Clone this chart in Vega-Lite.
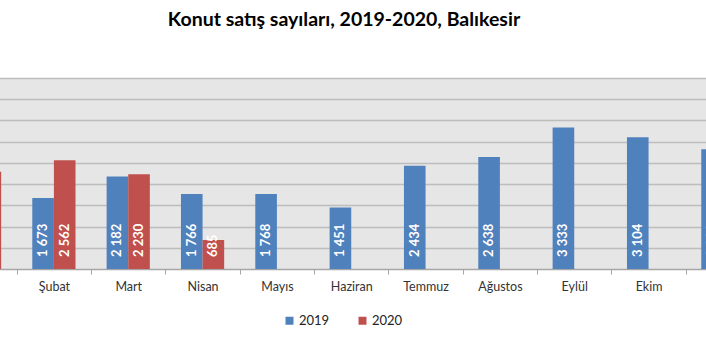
{
  "$schema": "https://vega.github.io/schema/vega-lite/v6.json",
  "width": 706,
  "height": 191,
  "autosize": {"type": "none"},
  "padding": {"left": 0, "top": 78, "right": 0, "bottom": 86},
  "background": "#ffffff",
  "title": {
    "text": "Konut satış sayıları, 2019-2020, Balıkesir",
    "anchor": "middle",
    "frame": "group",
    "baseline": "alphabetic",
    "offset": 33,
    "dx": -9,
    "font": "Lato",
    "fontSize": 19.5,
    "fontWeight": "bold",
    "color": "#000000"
  },
  "config": {
    "view": {"fill": "#e6e6e6", "stroke": null},
    "locale": {"number": {"decimal": ",", "thousands": " ", "grouping": [3], "currency": ["", ""]}}
  },
  "data": {
    "values": [
      {"ay": "Ocak", "yil": "2020", "satis": 2290},
      {"ay": "Şubat", "yil": "2019", "satis": 1673},
      {"ay": "Şubat", "yil": "2020", "satis": 2562},
      {"ay": "Mart", "yil": "2019", "satis": 2182},
      {"ay": "Mart", "yil": "2020", "satis": 2230},
      {"ay": "Nisan", "yil": "2019", "satis": 1766},
      {"ay": "Nisan", "yil": "2020", "satis": 685},
      {"ay": "Mayıs", "yil": "2019", "satis": 1768},
      {"ay": "Haziran", "yil": "2019", "satis": 1451},
      {"ay": "Temmuz", "yil": "2019", "satis": 2434},
      {"ay": "Ağustos", "yil": "2019", "satis": 2638},
      {"ay": "Eylül", "yil": "2019", "satis": 3333},
      {"ay": "Ekim", "yil": "2019", "satis": 3104},
      {"ay": "Kasım", "yil": "2019", "satis": 2820}
    ]
  },
  "encoding": {
    "x": {
      "field": "ay",
      "type": "nominal",
      "sort": ["Ocak", "Şubat", "Mart", "Nisan", "Mayıs", "Haziran", "Temmuz", "Ağustos", "Eylül", "Ekim", "Kasım", "Aralık"],
      "scale": {
        "domain": ["Ocak", "Şubat", "Mart", "Nisan", "Mayıs", "Haziran", "Temmuz", "Ağustos", "Eylül", "Ekim", "Kasım", "Aralık"],
        "range": [-57.6, 834.4],
        "paddingInner": 0,
        "paddingOuter": 0
      },
      "axis": {
        "title": null,
        "labelAngle": 0,
        "labelFont": "Lato",
        "labelFontSize": 12.5,
        "labelColor": "#333333",
        "labelPadding": 6,
        "labelOverlap": false,
        "tickBand": "extent",
        "tickSize": 5,
        "tickColor": "#a6a6a6",
        "domainColor": "#a6a6a6",
        "domainWidth": 1.5,
        "grid": false
      }
    },
    "xOffset": {
      "field": "yil",
      "type": "nominal",
      "scale": {"domain": ["2019", "2020"], "paddingInner": 0, "paddingOuter": 0.72}
    }
  },
  "layer": [
    {
      "mark": {"type": "bar", "clip": true},
      "encoding": {
        "y": {
          "field": "satis",
          "type": "quantitative",
          "scale": {"domain": [0, 4500], "nice": false},
          "axis": {
            "title": null,
            "labels": false,
            "labelOverlap": false,
            "ticks": false,
            "domain": false,
            "tickCount": 9,
            "values": [500, 1000, 1500, 2000, 2500, 3000, 3500, 4000, 4500],
            "grid": true,
            "gridColor": "#bdbdbd",
            "gridWidth": 1.5
          }
        },
        "color": {
          "field": "yil",
          "type": "nominal",
          "scale": {"domain": ["2019", "2020"], "range": ["#4f81bd", "#c0504d"]},
          "legend": {
            "title": null,
            "orient": "none",
            "direction": "horizontal",
            "legendX": 283,
            "legendY": 236,
            "symbolType": "square",
            "symbolSize": 64,
            "symbolStrokeWidth": 0,
            "labelFont": "Lato",
            "labelFontSize": 13,
            "labelColor": "#222222",
            "labelOffset": 3,
            "columnPadding": 26
          }
        }
      }
    },
    {
      "mark": {
        "type": "text",
        "clip": true,
        "angle": 270,
        "align": "left",
        "baseline": "middle",
        "dx": 12,
        "font": "Lato",
        "fontSize": 13,
        "fontWeight": "bold",
        "color": "#ffffff"
      },
      "encoding": {
        "y": {"datum": 0, "type": "quantitative"},
        "text": {"field": "satis", "type": "quantitative", "format": ",d"}
      }
    }
  ]
}
